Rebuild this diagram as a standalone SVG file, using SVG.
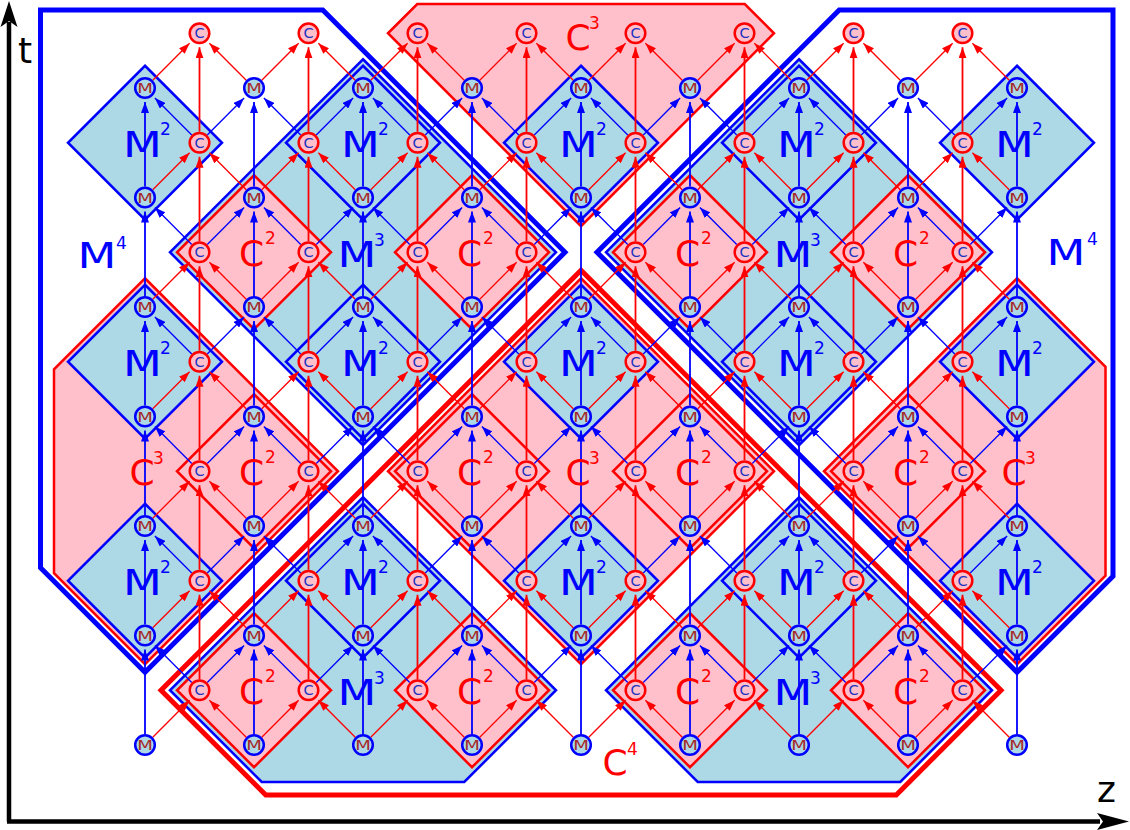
<svg xmlns="http://www.w3.org/2000/svg" width="1130" height="830" viewBox="0 0 1130 830">
<style>
.fm{fill:#add8e6;stroke:#00f;stroke-width:2.5}
.fc{fill:#ffc0cb;stroke:#f00;stroke-width:2.5}
.om{fill:none;stroke:#00f;stroke-width:5}
.oc{fill:none;stroke:#f00;stroke-width:5}
.eb{fill:none;stroke:#00f;stroke-width:1.3;marker-end:url(#aB)}
.er{fill:none;stroke:#f00;stroke-width:1.3;marker-end:url(#aR)}
.v{stroke-width:1.8}
.cm{fill:#add8e6;stroke:#00f;stroke-width:2.5}
.cc{fill:#ffc0cb;stroke:#f00;stroke-width:2.5}
text{font-family:"DejaVu Sans",Verdana,sans-serif}
.tm{font-size:14.5px;fill:#a52a2a;text-anchor:middle}
.tc{font-size:14.5px;fill:#2030c0;text-anchor:middle}
.lb{font-size:36px;text-anchor:middle}
.sp{font-size:17px;text-anchor:start}
.tb{fill:#00f}
.tr{fill:#f00}
.ax{font-size:36px;fill:#000;text-anchor:middle}
</style>
<defs>
<marker id="aB" viewBox="0 0 11 8" refX="11" refY="4" markerWidth="11" markerHeight="8" markerUnits="userSpaceOnUse" orient="auto"><path d="M0 0L11 4L0 8z" fill="#00f"/></marker>
<marker id="aR" viewBox="0 0 11 8" refX="11" refY="4" markerWidth="11" markerHeight="8" markerUnits="userSpaceOnUse" orient="auto"><path d="M0 0L11 4L0 8z" fill="#f00"/></marker>
<path id="d2" d="M0-77L77 0L0 77L-77 0Z"/>
<path id="vB" class="eb v" d="M0-11V-95.5"/>
<path id="vR" class="er v" d="M0-11V-95.5"/>
<path id="dBL" class="eb" d="M-7.76-7.8L-44.62-44.83"/>
<path id="dBR" class="eb" d="M7.76-7.8L44.62-44.83"/>
<path id="dRL" class="er" d="M-7.76-7.8L-44.62-44.83"/>
<path id="dRR" class="er" d="M7.76-7.8L44.62-44.83"/>
<g id="eM"><use href="#vB"/><use href="#dRL"/><use href="#dRR"/></g>
<g id="eMl"><use href="#vB"/><use href="#dRR"/></g>
<g id="eMr"><use href="#vB"/><use href="#dRL"/></g>
<g id="eT"><use href="#dRL"/><use href="#dRR"/></g>
<g id="eC"><use href="#vR"/><use href="#dBL"/><use href="#dBR"/></g>
<g id="rM"><use href="#eMl" x="145"/><use href="#eM" x="254"/><use href="#eM" x="363"/><use href="#eM" x="472"/><use href="#eM" x="581"/><use href="#eM" x="690"/><use href="#eM" x="799"/><use href="#eM" x="908"/><use href="#eMr" x="1017"/></g>
<g id="rT"><use href="#dRR" x="145"/><use href="#eT" x="254"/><use href="#eT" x="363"/><use href="#eT" x="472"/><use href="#eT" x="581"/><use href="#eT" x="690"/><use href="#eT" x="799"/><use href="#eT" x="908"/><use href="#dRL" x="1017"/></g>
<g id="rC"><use href="#eC" x="199.5"/><use href="#eC" x="308.5"/><use href="#eC" x="417.5"/><use href="#eC" x="526.5"/><use href="#eC" x="635.5"/><use href="#eC" x="744.5"/><use href="#eC" x="853.5"/><use href="#eC" x="962.5"/></g>
<g id="nM"><circle r="9.8" class="cm"/><text class="tm" transform="translate(0,5.1) scale(1.25,1)">M</text></g>
<g id="nC"><circle r="9.8" class="cc"/><text class="tc" y="5.1">C</text></g>
<g id="LM2" class="tb"><text class="lb" transform="translate(-2.7,14) scale(1.25,1)">M</text><text class="sp" x="15" y="-8">2</text></g>
<g id="LC2" class="tr"><text class="lb" x="-2.5" y="14">C</text><text class="sp" x="11" y="-8">2</text></g>
<g id="LM3" class="tb"><text class="lb" transform="translate(-6,15) scale(1.25,1)">M</text><text class="sp" x="11" y="-6">3</text></g>
<g id="LC3" class="tr"><text class="lb" x="-3" y="14">C</text><text class="sp" x="8" y="-7">3</text></g>
</defs>
<rect width="1130" height="830" fill="#fff"/>

<g id="axes">
<path d="M9 821.5V22M7 821.5H1100" stroke="#000" stroke-width="4.5" fill="none"/>
<path d="M9 1L17.5 27L9 21L0.5 27Z" fill="#000"/>
<path d="M1129 821.5L1097 813L1103 821.5L1097 830Z" fill="#000"/>
<text class="ax" x="25" y="63">t</text>
<text class="ax" x="1106.5" y="802">z</text>
</g>

<g id="level4">
<g id="M4-left"><polygon class="om" points="40.5,10 322.75,10 565,252.25 145,672.25 40.5,567.75"/></g>
<g id="M4-right"><polygon class="om" points="839.25,10 1113,10 1113,576.25 1017,672.25 597,252.25"/></g>
<g id="C4"><polygon class="oc" points="581,270.25 1001,690.25 896.25,795 265.75,795 161,690.25"/></g>
</g>

<g id="level3">
<g id="M3-4-9"><polygon class="fm" points="363,59.25 556,252.25 363,445.25 170,252.25"/></g>
<g id="M3-12-9"><polygon class="fm" points="799,59.25 992,252.25 799,445.25 606,252.25"/></g>
<g id="M3-4-1"><polygon class="fm" points="363,497.25 556,690.25 464.25,782 261.75,782 170,690.25"/></g>
<g id="M3-12-1"><polygon class="fm" points="799,497.25 992,690.25 900.25,782 697.75,782 606,690.25"/></g>
<g id="C3-0-5"><polygon class="fc" points="145,278.25 338,471.25 145,664.25 54,573.25 54,369.25"/></g>
<g id="C3-8-5"><polygon class="fc" points="581,278.25 774,471.25 581,664.25 388,471.25"/></g>
<g id="C3-16-5"><polygon class="fc" points="1017,278.25 1105.5,366.75 1105.5,575.75 1017,664.25 824,471.25"/></g>
<g id="C3-8-13"><polygon class="fc" points="388,33.25 417.25,4 744.75,4 774,33.25 581,226.25"/></g>
</g>

<g id="level2">
<g id="M2-0-11"><use href="#d2" class="fm" x="145" y="142.75"/></g>
<g id="M2-4-11"><use href="#d2" class="fm" x="363" y="142.75"/></g>
<g id="M2-8-11"><use href="#d2" class="fm" x="581" y="142.75"/></g>
<g id="M2-12-11"><use href="#d2" class="fm" x="799" y="142.75"/></g>
<g id="M2-16-11"><use href="#d2" class="fm" x="1017" y="142.75"/></g>
<g id="M2-0-7"><use href="#d2" class="fm" x="145" y="361.75"/></g>
<g id="M2-4-7"><use href="#d2" class="fm" x="363" y="361.75"/></g>
<g id="M2-8-7"><use href="#d2" class="fm" x="581" y="361.75"/></g>
<g id="M2-12-7"><use href="#d2" class="fm" x="799" y="361.75"/></g>
<g id="M2-16-7"><use href="#d2" class="fm" x="1017" y="361.75"/></g>
<g id="M2-0-3"><use href="#d2" class="fm" x="145" y="580.75"/></g>
<g id="M2-4-3"><use href="#d2" class="fm" x="363" y="580.75"/></g>
<g id="M2-8-3"><use href="#d2" class="fm" x="581" y="580.75"/></g>
<g id="M2-12-3"><use href="#d2" class="fm" x="799" y="580.75"/></g>
<g id="M2-16-3"><use href="#d2" class="fm" x="1017" y="580.75"/></g>
<g id="C2-2-9"><use href="#d2" class="fc" x="254" y="252.25"/></g>
<g id="C2-6-9"><use href="#d2" class="fc" x="472" y="252.25"/></g>
<g id="C2-10-9"><use href="#d2" class="fc" x="690" y="252.25"/></g>
<g id="C2-14-9"><use href="#d2" class="fc" x="908" y="252.25"/></g>
<g id="C2-2-5"><use href="#d2" class="fc" x="254" y="471.25"/></g>
<g id="C2-6-5"><use href="#d2" class="fc" x="472" y="471.25"/></g>
<g id="C2-10-5"><use href="#d2" class="fc" x="690" y="471.25"/></g>
<g id="C2-14-5"><use href="#d2" class="fc" x="908" y="471.25"/></g>
<g id="C2-2-1"><use href="#d2" class="fc" x="254" y="690.25"/></g>
<g id="C2-6-1"><use href="#d2" class="fc" x="472" y="690.25"/></g>
<g id="C2-10-1"><use href="#d2" class="fc" x="690" y="690.25"/></g>
<g id="C2-14-1"><use href="#d2" class="fc" x="908" y="690.25"/></g>
</g>

<g id="connectors">
<use href="#rM" y="745"/>
<use href="#rM" y="635.5"/>
<use href="#rM" y="526"/>
<use href="#rM" y="416.5"/>
<use href="#rM" y="307"/>
<use href="#rM" y="197.5"/>
<use href="#rT" y="88"/>
<use href="#rC" y="690.25"/>
<use href="#rC" y="580.75"/>
<use href="#rC" y="471.25"/>
<use href="#rC" y="361.75"/>
<use href="#rC" y="252.25"/>
<use href="#rC" y="142.75"/>
</g>

<g id="nodes">
<use id="m0-0" href="#nM" x="145" y="745"/><use id="m2-0" href="#nM" x="254" y="745"/><use id="m4-0" href="#nM" x="363" y="745"/><use id="m6-0" href="#nM" x="472" y="745"/><use id="m8-0" href="#nM" x="581" y="745"/><use id="m10-0" href="#nM" x="690" y="745"/><use id="m12-0" href="#nM" x="799" y="745"/><use id="m14-0" href="#nM" x="908" y="745"/><use id="m16-0" href="#nM" x="1017" y="745"/>
<use id="m0-2" href="#nM" x="145" y="635.5"/><use id="m2-2" href="#nM" x="254" y="635.5"/><use id="m4-2" href="#nM" x="363" y="635.5"/><use id="m6-2" href="#nM" x="472" y="635.5"/><use id="m8-2" href="#nM" x="581" y="635.5"/><use id="m10-2" href="#nM" x="690" y="635.5"/><use id="m12-2" href="#nM" x="799" y="635.5"/><use id="m14-2" href="#nM" x="908" y="635.5"/><use id="m16-2" href="#nM" x="1017" y="635.5"/>
<use id="m0-4" href="#nM" x="145" y="526"/><use id="m2-4" href="#nM" x="254" y="526"/><use id="m4-4" href="#nM" x="363" y="526"/><use id="m6-4" href="#nM" x="472" y="526"/><use id="m8-4" href="#nM" x="581" y="526"/><use id="m10-4" href="#nM" x="690" y="526"/><use id="m12-4" href="#nM" x="799" y="526"/><use id="m14-4" href="#nM" x="908" y="526"/><use id="m16-4" href="#nM" x="1017" y="526"/>
<use id="m0-6" href="#nM" x="145" y="416.5"/><use id="m2-6" href="#nM" x="254" y="416.5"/><use id="m4-6" href="#nM" x="363" y="416.5"/><use id="m6-6" href="#nM" x="472" y="416.5"/><use id="m8-6" href="#nM" x="581" y="416.5"/><use id="m10-6" href="#nM" x="690" y="416.5"/><use id="m12-6" href="#nM" x="799" y="416.5"/><use id="m14-6" href="#nM" x="908" y="416.5"/><use id="m16-6" href="#nM" x="1017" y="416.5"/>
<use id="m0-8" href="#nM" x="145" y="307"/><use id="m2-8" href="#nM" x="254" y="307"/><use id="m4-8" href="#nM" x="363" y="307"/><use id="m6-8" href="#nM" x="472" y="307"/><use id="m8-8" href="#nM" x="581" y="307"/><use id="m10-8" href="#nM" x="690" y="307"/><use id="m12-8" href="#nM" x="799" y="307"/><use id="m14-8" href="#nM" x="908" y="307"/><use id="m16-8" href="#nM" x="1017" y="307"/>
<use id="m0-10" href="#nM" x="145" y="197.5"/><use id="m2-10" href="#nM" x="254" y="197.5"/><use id="m4-10" href="#nM" x="363" y="197.5"/><use id="m6-10" href="#nM" x="472" y="197.5"/><use id="m8-10" href="#nM" x="581" y="197.5"/><use id="m10-10" href="#nM" x="690" y="197.5"/><use id="m12-10" href="#nM" x="799" y="197.5"/><use id="m14-10" href="#nM" x="908" y="197.5"/><use id="m16-10" href="#nM" x="1017" y="197.5"/>
<use id="m0-12" href="#nM" x="145" y="88"/><use id="m2-12" href="#nM" x="254" y="88"/><use id="m4-12" href="#nM" x="363" y="88"/><use id="m6-12" href="#nM" x="472" y="88"/><use id="m8-12" href="#nM" x="581" y="88"/><use id="m10-12" href="#nM" x="690" y="88"/><use id="m12-12" href="#nM" x="799" y="88"/><use id="m14-12" href="#nM" x="908" y="88"/><use id="m16-12" href="#nM" x="1017" y="88"/>
<use id="c1-1" href="#nC" x="199.5" y="690.25"/><use id="c3-1" href="#nC" x="308.5" y="690.25"/><use id="c5-1" href="#nC" x="417.5" y="690.25"/><use id="c7-1" href="#nC" x="526.5" y="690.25"/><use id="c9-1" href="#nC" x="635.5" y="690.25"/><use id="c11-1" href="#nC" x="744.5" y="690.25"/><use id="c13-1" href="#nC" x="853.5" y="690.25"/><use id="c15-1" href="#nC" x="962.5" y="690.25"/>
<use id="c1-3" href="#nC" x="199.5" y="580.75"/><use id="c3-3" href="#nC" x="308.5" y="580.75"/><use id="c5-3" href="#nC" x="417.5" y="580.75"/><use id="c7-3" href="#nC" x="526.5" y="580.75"/><use id="c9-3" href="#nC" x="635.5" y="580.75"/><use id="c11-3" href="#nC" x="744.5" y="580.75"/><use id="c13-3" href="#nC" x="853.5" y="580.75"/><use id="c15-3" href="#nC" x="962.5" y="580.75"/>
<use id="c1-5" href="#nC" x="199.5" y="471.25"/><use id="c3-5" href="#nC" x="308.5" y="471.25"/><use id="c5-5" href="#nC" x="417.5" y="471.25"/><use id="c7-5" href="#nC" x="526.5" y="471.25"/><use id="c9-5" href="#nC" x="635.5" y="471.25"/><use id="c11-5" href="#nC" x="744.5" y="471.25"/><use id="c13-5" href="#nC" x="853.5" y="471.25"/><use id="c15-5" href="#nC" x="962.5" y="471.25"/>
<use id="c1-7" href="#nC" x="199.5" y="361.75"/><use id="c3-7" href="#nC" x="308.5" y="361.75"/><use id="c5-7" href="#nC" x="417.5" y="361.75"/><use id="c7-7" href="#nC" x="526.5" y="361.75"/><use id="c9-7" href="#nC" x="635.5" y="361.75"/><use id="c11-7" href="#nC" x="744.5" y="361.75"/><use id="c13-7" href="#nC" x="853.5" y="361.75"/><use id="c15-7" href="#nC" x="962.5" y="361.75"/>
<use id="c1-9" href="#nC" x="199.5" y="252.25"/><use id="c3-9" href="#nC" x="308.5" y="252.25"/><use id="c5-9" href="#nC" x="417.5" y="252.25"/><use id="c7-9" href="#nC" x="526.5" y="252.25"/><use id="c9-9" href="#nC" x="635.5" y="252.25"/><use id="c11-9" href="#nC" x="744.5" y="252.25"/><use id="c13-9" href="#nC" x="853.5" y="252.25"/><use id="c15-9" href="#nC" x="962.5" y="252.25"/>
<use id="c1-11" href="#nC" x="199.5" y="142.75"/><use id="c3-11" href="#nC" x="308.5" y="142.75"/><use id="c5-11" href="#nC" x="417.5" y="142.75"/><use id="c7-11" href="#nC" x="526.5" y="142.75"/><use id="c9-11" href="#nC" x="635.5" y="142.75"/><use id="c11-11" href="#nC" x="744.5" y="142.75"/><use id="c13-11" href="#nC" x="853.5" y="142.75"/><use id="c15-11" href="#nC" x="962.5" y="142.75"/>
<use id="c1-13" href="#nC" x="199.5" y="33.25"/><use id="c3-13" href="#nC" x="308.5" y="33.25"/><use id="c5-13" href="#nC" x="417.5" y="33.25"/><use id="c7-13" href="#nC" x="526.5" y="33.25"/><use id="c9-13" href="#nC" x="635.5" y="33.25"/><use id="c11-13" href="#nC" x="744.5" y="33.25"/><use id="c13-13" href="#nC" x="853.5" y="33.25"/><use id="c15-13" href="#nC" x="962.5" y="33.25"/>
</g>

<g id="labels">
<use href="#LM2" x="145" y="142.75"/><use href="#LM2" x="363" y="142.75"/><use href="#LM2" x="581" y="142.75"/><use href="#LM2" x="799" y="142.75"/><use href="#LM2" x="1017" y="142.75"/>
<use href="#LM2" x="145" y="361.75"/><use href="#LM2" x="363" y="361.75"/><use href="#LM2" x="581" y="361.75"/><use href="#LM2" x="799" y="361.75"/><use href="#LM2" x="1017" y="361.75"/>
<use href="#LM2" x="145" y="580.75"/><use href="#LM2" x="363" y="580.75"/><use href="#LM2" x="581" y="580.75"/><use href="#LM2" x="799" y="580.75"/><use href="#LM2" x="1017" y="580.75"/>
<use href="#LC2" x="254" y="252.25"/><use href="#LC2" x="472" y="252.25"/><use href="#LC2" x="690" y="252.25"/><use href="#LC2" x="908" y="252.25"/>
<use href="#LC2" x="254" y="471.25"/><use href="#LC2" x="472" y="471.25"/><use href="#LC2" x="690" y="471.25"/><use href="#LC2" x="908" y="471.25"/>
<use href="#LC2" x="254" y="690.25"/><use href="#LC2" x="472" y="690.25"/><use href="#LC2" x="690" y="690.25"/><use href="#LC2" x="908" y="690.25"/>
<use href="#LM3" x="363" y="252.25"/><use href="#LM3" x="799" y="252.25"/><use href="#LM3" x="363" y="690.25"/><use href="#LM3" x="799" y="690.25"/>
<use href="#LC3" x="145" y="471.25"/><use href="#LC3" x="581" y="471.25"/><use href="#LC3" x="1017" y="471.25"/>
<g class="tr"><text class="lb" x="578" y="50">C</text><text class="sp" x="589" y="29">3</text></g>
<g class="tb"><text class="lb" transform="translate(97,268) scale(1.25,1)">M</text><text class="sp" x="116" y="249">4</text></g>
<g class="tb"><text class="lb" transform="translate(1066,265) scale(1.25,1)">M</text><text class="sp" x="1087" y="245">4</text></g>
<g class="tr"><text class="lb" x="615" y="775">C</text><text class="sp" x="627" y="755">4</text></g>
</g>
</svg>
